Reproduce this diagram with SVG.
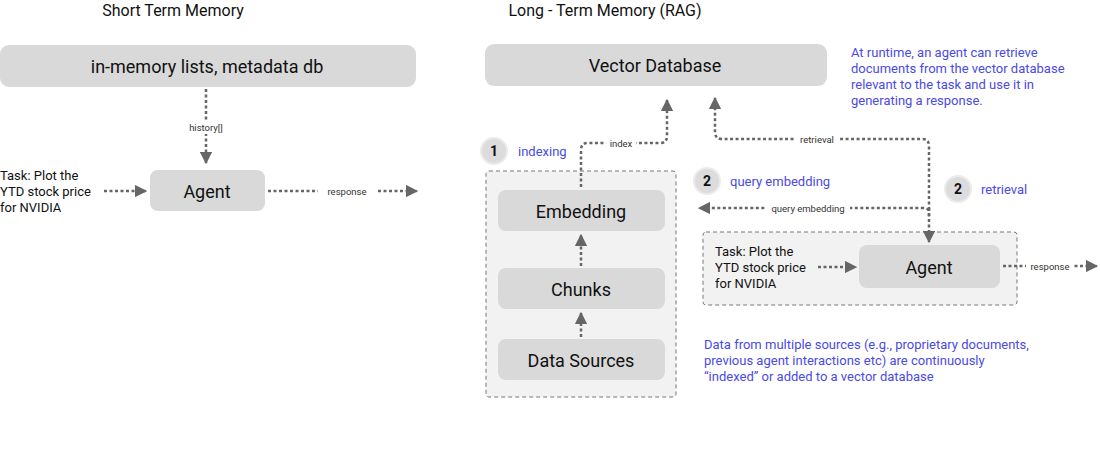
<svg xmlns="http://www.w3.org/2000/svg" width="1100" height="458" viewBox="0 0 1100 458">
<style>
text{font-family:Roboto,"Noto Sans",sans-serif;fill:#111}
.title{font-size:16px;text-anchor:middle}
.box{fill:#d9d9d9}
.cont{fill:#f2f2f2;stroke:#777;stroke-width:1;stroke-dasharray:4,3}
.big{font-size:18px;text-anchor:middle;dominant-baseline:central}
.mid{font-size:18px;text-anchor:middle;dominant-baseline:central}
.task{font-size:13px}
.blue{fill:#4a4ae6;font-size:13px}
.lbl{font-size:9.5px;fill:#333;text-anchor:middle;dominant-baseline:central}
.badge{fill:#dcdcdc;stroke:#ebebeb;stroke-width:2}
.num{font-size:14px;font-weight:bold;text-anchor:middle;dominant-baseline:central}
.c{fill:none;stroke:#666;stroke-width:2.5;stroke-dasharray:3,2.5}
.bg{fill:#fff}
</style>
<defs>
<marker id="ah" viewBox="0 0 10 10" refX="9" refY="5" markerWidth="5" markerHeight="5" markerUnits="strokeWidth" orient="auto"><path d="M0,0L10,5L0,10z" fill="#666"/></marker>
</defs>

<text class="title" x="173" y="16">Short Term Memory</text>
<text class="title" x="605" y="16">Long - Term Memory (RAG)</text>

<g id="memory-db"><rect class="box" x="0" y="45" width="416" height="42" rx="9"/><text class="big" x="207" y="66">in-memory lists, metadata db</text></g>
<g id="agent-short"><rect class="box" x="150" y="170" width="115" height="41" rx="8"/><text class="big" x="207" y="191">Agent</text></g>
<g id="task-short"><text class="task" x="0" y="180">Task: Plot the</text><text class="task" x="0" y="196">YTD stock price</text><text class="task" x="0" y="212">for NVIDIA</text></g>

<g id="vector-db"><rect class="box" x="485" y="44" width="342" height="42" rx="9"/><text class="mid" x="655" y="65">Vector Database</text></g>

<g id="indexing-container"><rect class="cont" x="486" y="171" width="190" height="226" rx="3"/></g>
<g id="embedding"><rect class="box" x="498" y="190" width="167" height="41" rx="8"/><text class="mid" x="581" y="211">Embedding</text></g>
<g id="chunks"><rect class="box" x="498" y="268" width="167" height="41" rx="8"/><text class="mid" x="581" y="289">Chunks</text></g>
<g id="data-sources"><rect class="box" x="498" y="339" width="167" height="41" rx="8"/><text class="mid" x="581" y="360">Data Sources</text></g>

<g id="agent-container"><rect class="cont" x="703" y="232" width="314" height="73" rx="3"/></g>
<g id="agent-long"><rect class="box" x="859" y="245" width="141" height="43" rx="8"/><text class="big" x="929" y="267">Agent</text></g>
<g id="task-long"><text class="task" x="715" y="256">Task: Plot the</text><text class="task" x="715" y="272">YTD stock price</text><text class="task" x="715" y="288">for NVIDIA</text></g>

<g id="step-1"><circle class="badge" cx="494" cy="151" r="13"/><text class="num" x="494" y="151">1</text><text class="blue" x="518" y="156">indexing</text></g>
<g id="step-2-query"><circle class="badge" cx="707" cy="181" r="13"/><text class="num" x="707" y="181">2</text><text class="blue" x="730" y="186">query embedding</text></g>
<g id="step-2-retrieval"><circle class="badge" cx="958" cy="189" r="13"/><text class="num" x="958" y="189">2</text><text class="blue" x="981" y="194">retrieval</text></g>

<g id="note-runtime"><text class="blue" x="851" y="57">At runtime, an agent can retrieve</text><text class="blue" x="851" y="73">documents from the vector database</text><text class="blue" x="851" y="89">relevant to the task and use it in</text><text class="blue" x="851" y="105">generating a response.</text></g>
<g id="note-indexing"><text class="blue" x="704" y="349">Data from multiple sources (e.g., proprietary documents,</text><text class="blue" x="704" y="365">previous agent interactions etc) are continuously</text><text class="blue" x="704" y="381">“indexed” or added to a vector database</text></g>

<g id="connectors">
<path class="c" d="M206,89V163" marker-end="url(#ah)"/>
<rect class="bg" x="185" y="120" width="42" height="14"/>
<text class="lbl" x="206" y="127">history[]</text>
<path class="c" d="M104,191H146" marker-end="url(#ah)"/>
<path class="c" d="M268,191H417" marker-end="url(#ah)"/>
<rect class="bg" x="318" y="184" width="58" height="14"/>
<text class="lbl" x="347" y="191">response</text>

<path class="c" d="M581,187V150Q581,143 588,143H660Q667,143 667,136V100" marker-end="url(#ah)"/>
<rect class="bg" x="606" y="136" width="30" height="14"/>
<text class="lbl" x="621" y="143">index</text>

<path class="c" d="M929,208V242" marker-end="url(#ah)"/>
<path class="c" d="M929,210V146Q929,139 922,139H722Q715,139 715,132V98" marker-end="url(#ah)"/>
<rect class="bg" x="796" y="132" width="42" height="14"/>
<text class="lbl" x="817" y="139">retrieval</text>
<path class="c" d="M929,216V212Q929,208 922,208H699" marker-end="url(#ah)"/>
<rect class="bg" x="766" y="201" width="84" height="14"/>
<text class="lbl" x="808" y="208">query embedding</text>

<path class="c" d="M581,266V235" marker-end="url(#ah)"/>
<path class="c" d="M581,337V313" marker-end="url(#ah)"/>
<path class="c" d="M818,267H856" marker-end="url(#ah)"/>
<path class="c" d="M1003,266H1097" marker-end="url(#ah)"/>
<rect class="bg" x="1026" y="259" width="48" height="14"/>
<text class="lbl" x="1050" y="266">response</text>
</g>
</svg>
